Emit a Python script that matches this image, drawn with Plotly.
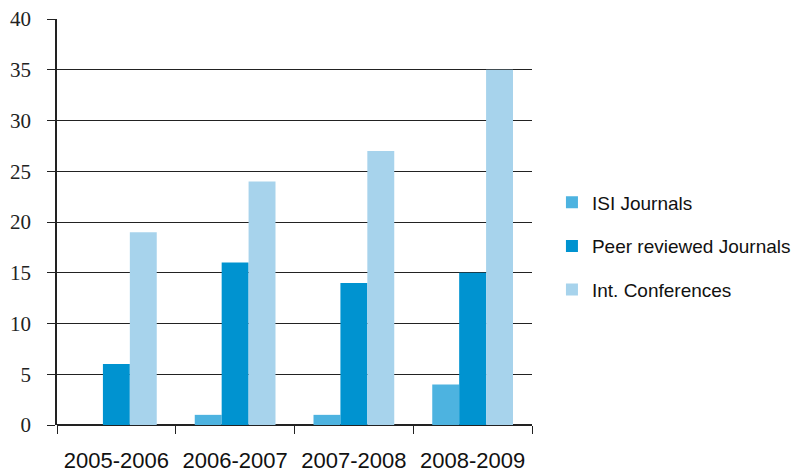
import plotly.graph_objects as go

categories = ["2005-2006", "2006-2007", "2007-2008", "2008-2009"]
isi_journals = [0, 1, 1, 4]
peer_reviewed = [6, 16, 14, 15]
int_conferences = [19, 24, 27, 35]
y_ticks = [0, 5, 10, 15, 20, 25, 30, 35, 40]

series = [
    ("ISI Journals", isi_journals, "#4DB3E0"),
    ("Peer reviewed Journals", peer_reviewed, "#0093D0"),
    ("Int. Conferences", int_conferences, "#A7D3EC"),
]

fig = go.Figure()
for i, (name, vals, col) in enumerate(series):
    fig.add_trace(go.Bar(x=categories, y=vals, name=name, marker_color=col,
                         marker_line_width=0, legendgroup=f"g{i}"))

fig.update_layout(
    width=802, height=474,
    margin=dict(l=57, r=270, t=19, b=49, autoexpand=False),
    paper_bgcolor="white", plot_bgcolor="white",
    barmode="group", bargap=0.32, bargroupgap=0,
    showlegend=True,
    legend=dict(x=1.042, y=0.44, xanchor="left", yanchor="middle",
                font=dict(family="Liberation Sans", size=19, color="#111"),
                traceorder="grouped", tracegroupgap=16,
                itemwidth=30, bgcolor="rgba(0,0,0,0)"),
    xaxis=dict(type="category", showgrid=False, showline=False, automargin=False,
               ticks="outside", tickson="boundaries", ticklen=8, tickwidth=1,
               tickcolor="#222",
               tickfont=dict(family="Liberation Sans", size=22, color="#111"),
               ticklabelstandoff=20),
    yaxis=dict(range=[0, 40], tickvals=y_ticks, showgrid=True, gridcolor="#222",
               gridwidth=1, zeroline=True, zerolinecolor="#222", zerolinewidth=1.5,
               showline=True, linecolor="#222", linewidth=1.5, automargin=False,
               ticks="outside", ticklen=8, tickcolor="#222",
               tickfont=dict(family="Liberation Serif", size=21, color="#222"),
               ticklabelstandoff=12),
)

fig.write_html("out.html")
